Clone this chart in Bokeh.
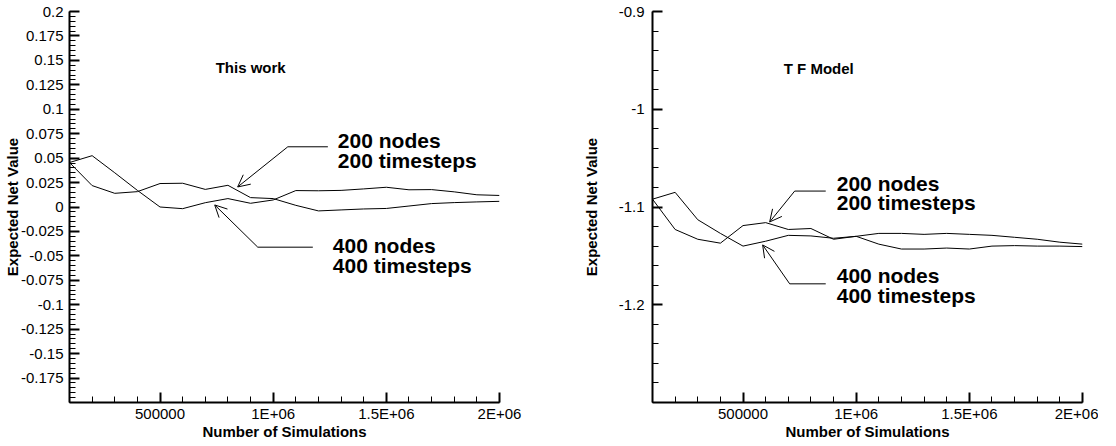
import numpy as np
from bokeh.plotting import figure
from bokeh.layouts import row
from bokeh.models import FixedTicker, Arrow, OpenHead, Label, Range1d
from bokeh.embed import file_html
from bokeh.resources import INLINE

# ---------------- data ----------------
simulations = [100000, 200000, 300000, 400000, 500000, 600000, 700000, 800000, 900000, 1000000,
               1100000, 1200000, 1300000, 1400000, 1500000, 1600000, 1700000, 1800000, 1900000, 2000000]

this_work_400 = [0.0455, 0.0525, 0.035, 0.017, 0.0, -0.0017, 0.0044, 0.0086, 0.0038, 0.0072,
                 0.0168, 0.0166, 0.017, 0.0185, 0.0202, 0.0176, 0.0178, 0.0155, 0.0125, 0.0118]
this_work_200 = [0.0455, 0.0219, 0.014, 0.0157, 0.024, 0.0243, 0.018, 0.0222, 0.0096, 0.0086,
                 0.0017, -0.004, -0.003, -0.002, -0.0015, 0.001, 0.0035, 0.0045, 0.0052, 0.0058]

tf_model_400 = [-1.092, -1.085, -1.113, -1.127, -1.140, -1.135, -1.129, -1.1296, -1.132, -1.130,
                -1.127, -1.127, -1.128, -1.127, -1.128, -1.129, -1.131, -1.133, -1.136, -1.138]
tf_model_200 = [-1.092, -1.123, -1.133, -1.137, -1.119, -1.116, -1.123, -1.122, -1.133, -1.130,
                -1.138, -1.143, -1.143, -1.142, -1.143, -1.140, -1.1395, -1.140, -1.140, -1.1405]

x_tick_values = [500000, 1000000, 1500000, 2000000]
x_tick_labels = ["500000", "1E+06", "1.5E+06", "2E+06"]

left_y_ticks = [-0.175, -0.15, -0.125, -0.1, -0.075, -0.05, -0.025, 0.0,
                0.025, 0.05, 0.075, 0.1, 0.125, 0.15, 0.175, 0.2]
left_y_labels = ["-0.175", "-0.15", "-0.125", "-0.1", "-0.075", "-0.05", "-0.025", "0",
                 "0.025", "0.05", "0.075", "0.1", "0.125", "0.15", "0.175", "0.2"]

right_y_ticks = [-1.2, -1.1, -1.0, -0.9]
right_y_labels = ["-1.2", "-1.1", "-1", "-0.9"]

titles = ["This work", "T F Model"]
x_title = "Number of Simulations"
y_title = "Expected Net Value"
series_labels = [("200 nodes", "200 timesteps"), ("400 nodes", "400 timesteps")]

FONT = "Liberation Sans"


def style_axes(p, ylab_standoff, ylab_label_standoff):
    for ax in (p.xaxis[0], p.yaxis[0]):
        ax.axis_line_width = 2
        ax.axis_line_color = "black"
        ax.major_tick_in = 10
        ax.major_tick_out = 0
        ax.minor_tick_in = 6
        ax.minor_tick_out = 0
        ax.major_tick_line_width = 2
        ax.minor_tick_line_width = 1
        ax.major_label_text_font = FONT
        ax.major_label_text_font_size = "15px"
        ax.major_label_text_color = "black"
        ax.axis_label_text_font = FONT
        ax.axis_label_text_font_size = "15px"
        ax.axis_label_text_font_style = "bold"
        ax.axis_label_text_color = "black"
    p.xaxis[0].major_label_standoff = 2
    p.xaxis[0].axis_label_standoff = -2
    p.yaxis[0].major_label_standoff = ylab_standoff
    p.yaxis[0].axis_label_standoff = ylab_label_standoff
    p.grid.visible = False
    p.outline_line_color = None
    p.background_fill_color = "white"
    p.border_fill_color = "white"


def make_fig(border_left, border_right, yrange, yticks, yminor, ylabels,
             s400, s200, ylab_standoff, ylab_label_standoff):
    p = figure(frame_width=430, frame_height=391, output_backend="svg", toolbar_location=None,
               x_range=Range1d(100000, 2000000), y_range=Range1d(*yrange),
               min_border_left=border_left, min_border_right=border_right,
               min_border_top=11, min_border_bottom=0,
               x_axis_label=x_title, y_axis_label=y_title)
    p.xaxis[0].ticker = FixedTicker(ticks=x_tick_values,
                                    minor_ticks=list(np.arange(100000, 2000001, 100000)))
    p.xaxis[0].major_label_overrides = dict(zip(x_tick_values, x_tick_labels))
    p.yaxis[0].ticker = FixedTicker(ticks=yticks, minor_ticks=yminor)
    p.yaxis[0].major_label_overrides = dict(zip(yticks, ylabels))
    style_axes(p, ylab_standoff, ylab_label_standoff)
    p.line(simulations, s400, line_color="black", line_width=1)
    p.line(simulations, s200, line_color="black", line_width=1)
    return p


def annotate(p, title_pos, title, leaders, text_pos, yline_gap):
    p.add_layout(Label(x=title_pos[0], y=title_pos[1], text=title, text_font=FONT,
                       text_font_size="15px", text_font_style="bold",
                       text_baseline="middle", text_align="left", text_color="black"))
    for (hx0, hx1, hy, tipx, tipy), (tx, ty), (l1, l2) in zip(leaders, text_pos, series_labels):
        p.line([hx0, hx1], [hy, hy], line_color="black", line_width=1)
        p.add_layout(Arrow(end=OpenHead(size=12, line_width=1, line_color="black"),
                           x_start=hx0, y_start=hy, x_end=tipx, y_end=tipy,
                           line_width=1, line_color="black"))
        for txt, yy in ((l1, ty), (l2, ty - yline_gap)):
            p.add_layout(Label(x=tx, y=yy, text=txt, text_font=FONT, text_font_size="21px",
                               text_font_style="bold", text_baseline="middle",
                               text_align="left", text_color="black"))


left_minor = [round(v, 4) for v in np.arange(-0.2, 0.2001, 0.005)]
p1 = make_fig(67, 65, (-0.2, 0.2), left_y_ticks, left_minor, left_y_labels,
              this_work_400, this_work_200, 6, -3)
annotate(p1, (746000, 0.143), titles[0],
         [(1064600, 1241600, 0.0616, 843000, 0.0205),
          (931900, 1175200, -0.0411, 741600, 0.0021)],
         [(1285800, 0.0678), (1263700, -0.039)], 0.0206)

right_minor = [round(v, 4) for v in np.arange(-1.3, -0.8999, 0.02)]
p2 = make_fig(88, 16, (-1.3, -0.9), right_y_ticks, right_minor, right_y_labels,
              tf_model_400, tf_model_200, 8, 16)
annotate(p2, (680000, -0.958), titles[1],
         [(728300, 865500, -1.0837, 617700, -1.1153),
          (706200, 865500, -1.1786, 586700, -1.1388)],
         [(914200, -1.0755), (914200, -1.1704)], 0.0204)

layout = row(p1, p2)
open("out.html", "w").write(file_html(layout, INLINE))
